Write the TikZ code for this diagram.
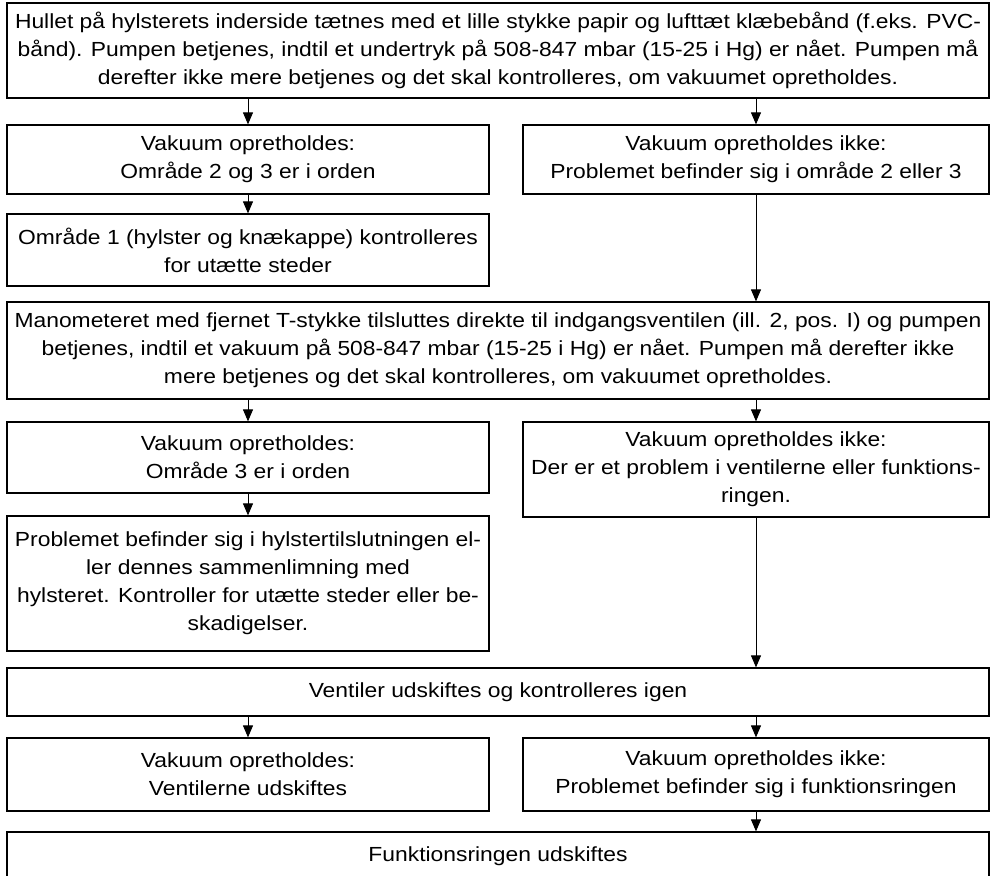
\documentclass[tikz,border=0pt]{standalone}
\usepackage{fontspec}
\setmainfont{Liberation Sans}[FakeStretch=1.12]
\usetikzlibrary{arrows.meta}

\begin{document}
\begin{tikzpicture}[x=0.5pt,y=-0.5pt,
    every node/.style={draw,line width=0.6pt,inner sep=0pt,align=center,
        font=\fontsize{10.2pt}{14pt}\selectfont},
    wide/.style={minimum width=491pt},
    leftbox/.style={minimum width=241pt},
    rightbox/.style={minimum width=233pt},
    flow/.style={-{Triangle[length=6pt,width=5pt]},line width=0.5pt}]
    \useasboundingbox (0,0) rectangle (991,876);

    % test af hylster
    \node[wide,minimum height=47.5pt] (hul) at (498,50.5)
        {Hullet på hylsterets inderside tætnes med et lille stykke papir og lufttæt klæbebånd (f.eks. PVC-\\
         bånd). Pumpen betjenes, indtil et undertryk på 508-847 mbar (15-25 i Hg) er nået. Pumpen må\\
         derefter ikke mere betjenes og det skal kontrolleres, om vakuumet opretholdes.};
    \node[leftbox,minimum height=34.5pt] (ok1) at (248,159.5)
        {Vakuum opretholdes:\\Område 2 og 3 er i orden};
    \node[rightbox,minimum height=34.5pt] (ikke1) at (756,159.5)
        {Vakuum opretholdes ikke:\\Problemet befinder sig i område 2 eller 3};
    \node[leftbox,minimum height=36pt] (omr1) at (248,250)
        {Område 1 (hylster og knækappe) kontrolleres\\for utætte steder};

    % test af ventil
    \node[wide,minimum height=48.5pt] (mano) at (498,350.5)
        {Manometeret med fjernet T-stykke tilsluttes direkte til indgangsventilen (ill. 2, pos. I) og pumpen\\
         betjenes, indtil et vakuum på 508-847 mbar (15-25 i Hg) er nået. Pumpen må derefter ikke\\
         mere betjenes og det skal kontrolleres, om vakuumet opretholdes.};
    \node[leftbox,minimum height=35.5pt] (ok2) at (248,457.5)
        {Vakuum opretholdes:\\Område 3 er i orden};
    \node[rightbox,minimum height=47.5pt] (ikke2) at (756,469.5)
        {Vakuum opretholdes ikke:\\Der er et problem i ventilerne eller funktions-\\ringen.};
    \node[leftbox,minimum height=67.5pt] (tilsl) at (248,583.5)
        {Problemet befinder sig i hylstertilslutningen el-\\ler dennes sammenlimning med\\
         hylsteret. Kontroller for utætte steder eller be-\\skadigelser.};

    % udskiftning
    \node[wide,minimum height=24pt] (vent) at (498,692)
        {Ventiler udskiftes og kontrolleres igen};
    \node[leftbox,minimum height=36.5pt] (ok3) at (248,774.5)
        {Vakuum opretholdes:\\Ventilerne udskiftes};
    \node[rightbox,minimum height=36.5pt] (ikke3) at (756,774.5)
        {Vakuum opretholdes ikke:\\Problemet befinder sig i funktionsringen};
    \node[wide,minimum height=24pt] (ring) at (498,856)
        {Funktionsringen udskiftes};

    \draw[flow] (hul.south -| ok1) -- (ok1);
    \draw[flow] (hul.south -| ikke1) -- (ikke1);
    \draw[flow] (ok1) -- (omr1);
    \draw[flow] (ikke1) -- (mano.north -| ikke1);
    \draw[flow] (mano.south -| ok2) -- (ok2);
    \draw[flow] (mano.south -| ikke2) -- (ikke2);
    \draw[flow] (ok2) -- (tilsl);
    \draw[flow] (ikke2) -- (vent.north -| ikke2);
    \draw[flow] (vent.south -| ok3) -- (ok3);
    \draw[flow] (vent.south -| ikke3) -- (ikke3);
    \draw[flow] (ikke3) -- (ring.north -| ikke3);
\end{tikzpicture}
\end{document}
